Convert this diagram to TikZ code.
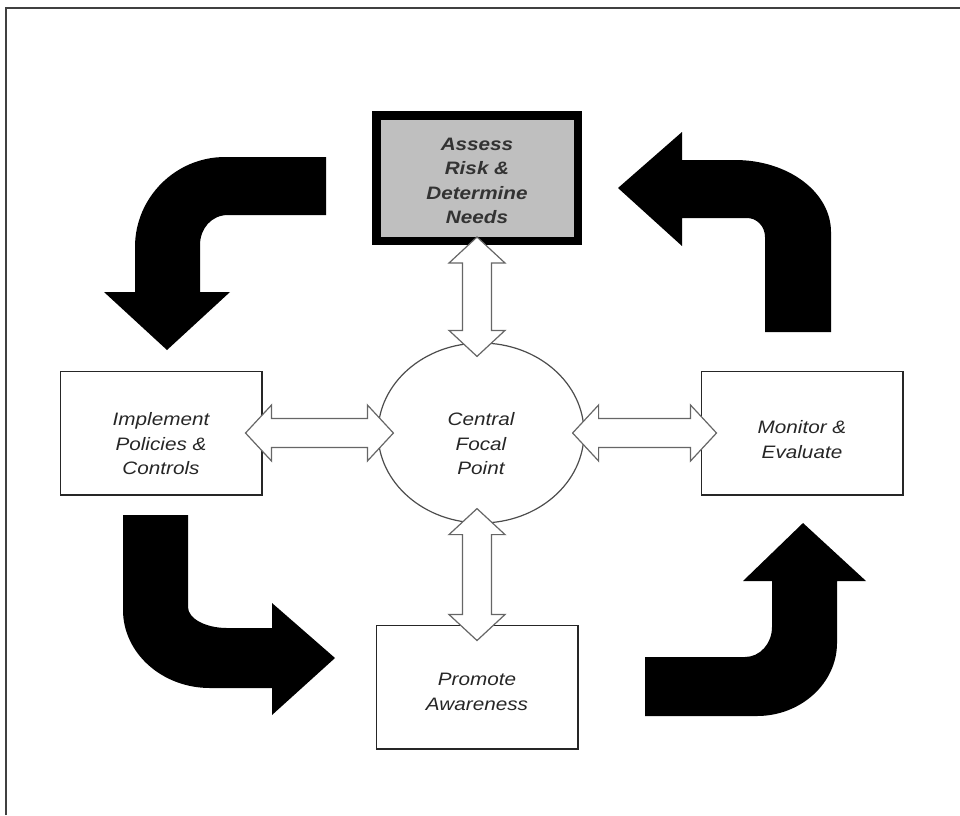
\documentclass[tikz,border=0pt]{standalone}
\usepackage{fontspec}
\setmainfont{Liberation Sans}[FakeStretch=1.15]
\usetikzlibrary{calc,shapes.geometric}

\newcommand{\diagfont}{\fontsize{18pt}{24.5pt}\selectfont\itshape}

\tikzset{
  box/.style={draw=black!85, line width=1.5pt, minimum width=201.5pt, minimum height=123.5pt,
    align=center, text=black!85, font=\diagfont},
  keybox/.style={box, draw=black, fill=black!25, line width=8.5pt, minimum height=125.5pt,
    text=black!80, font=\diagfont\bfseries},
  focus/.style={ellipse, draw=black!70, line width=1.2pt, minimum width=206pt, minimum height=180pt,
    align=center, text=black!85, font=\diagfont},
  twoway/.style={draw=black!60, fill=white, line width=1.2pt, line join=miter},
  turnarrow/.style={fill=black},
  frame/.style={draw=black!75, line width=2pt}
}

% fat two-headed arrow from one point to another
\newcommand{\twoway}[2]{%
  \draw[twoway] let \p1=(#1), \p2=(#2),
      \n1={atan2(\y2-\y1,\x2-\x1)}, \n2={veclen(\x2-\x1,\y2-\y1)} in
    [shift={(\p1)}, rotate=\n1]
    (0pt,0pt) -- (26pt,28pt) -- (26pt,14.5pt) -- ({\n2-26pt},14.5pt) -- ({\n2-26pt},28pt)
    -- ({\n2},0pt) -- ({\n2-26pt},-28pt) -- ({\n2-26pt},-14.5pt) -- (26pt,-14.5pt)
    -- (26pt,-28pt) -- cycle;}

\begin{document}
\begin{tikzpicture}[x=1pt, y=-1pt, node distance=320pt]
  \useasboundingbox (0,0) rectangle (960,815);
  \draw[frame] (5.5,815) |- (960,7.5);

  \node[focus, text height=84pt]  (focal) at (481,433) {Central\\Focal\\Point};
  \node[keybox, text height=92pt] (assess)    [above of=focal, node distance=255pt, xshift=-4pt] {Assess\\Risk \&\\Determine\\Needs};
  \node[box, text height=84pt] (implement) [left of=focal] {Implement\\Policies \&\\Controls};
  \node[box, text height=51pt] (monitor)   [right of=focal, node distance=321pt] {Monitor \&\\Evaluate};
  \node[box, text height=47pt] (promote)   [below of=focal, node distance=254pt, xshift=-4pt] {Promote\\Awareness};

  \twoway{$(assess.south)+(0,-8)$}{$(assess.south |- focal.north)+(0,14)$}
  \twoway{$(promote.north |- focal.south)+(0,-15)$}{$(promote.north)+(0,16)$}
  \twoway{$(implement.east)+(-17,0)$}{$(focal.west)+(16,0)$}
  \twoway{$(focal.east)+(-12,0)$}{$(monitor.west)+(16,0)$}

  % the cycle arrows
  \fill[turnarrow] (326,157) -- (225,157) .. controls (175.5,157) and (135,197.5) .. (135,247)
    -- (135,292) -- (104,292) -- (167,350) -- (230,292) -- (200,292) -- (200,245)
    .. controls (200,228.5) and (211.5,215) .. (228,215) -- (326,215) -- cycle;
  \fill[turnarrow] (682,160) -- (735,160) .. controls (788,160) and (831,192) .. (831,232)
    -- (831,332) -- (765,332) -- (765,237) .. controls (765,226.5) and (757,218) .. (747,218)
    -- (682,218) -- (682,246) -- (618,188) -- (682,132) -- cycle;
  \fill[turnarrow] (123,515) -- (188,515) -- (188,607) .. controls (188,618.5) and (205.5,628) .. (227,628)
    -- (272,628) -- (272,603) -- (335,658) -- (272,715) -- (272,688) -- (210,688)
    .. controls (162,688) and (123,653) .. (123,610) -- cycle;
  \fill[turnarrow] (645,657) -- (745,657) .. controls (760,657) and (772,643.5) .. (772,627)
    -- (772,581) -- (743,581) -- (803,523) -- (866,581) -- (837,581) -- (837,643)
    .. controls (837,683) and (801,716) .. (757,716) -- (645,716) -- cycle;
\end{tikzpicture}
\end{document}
